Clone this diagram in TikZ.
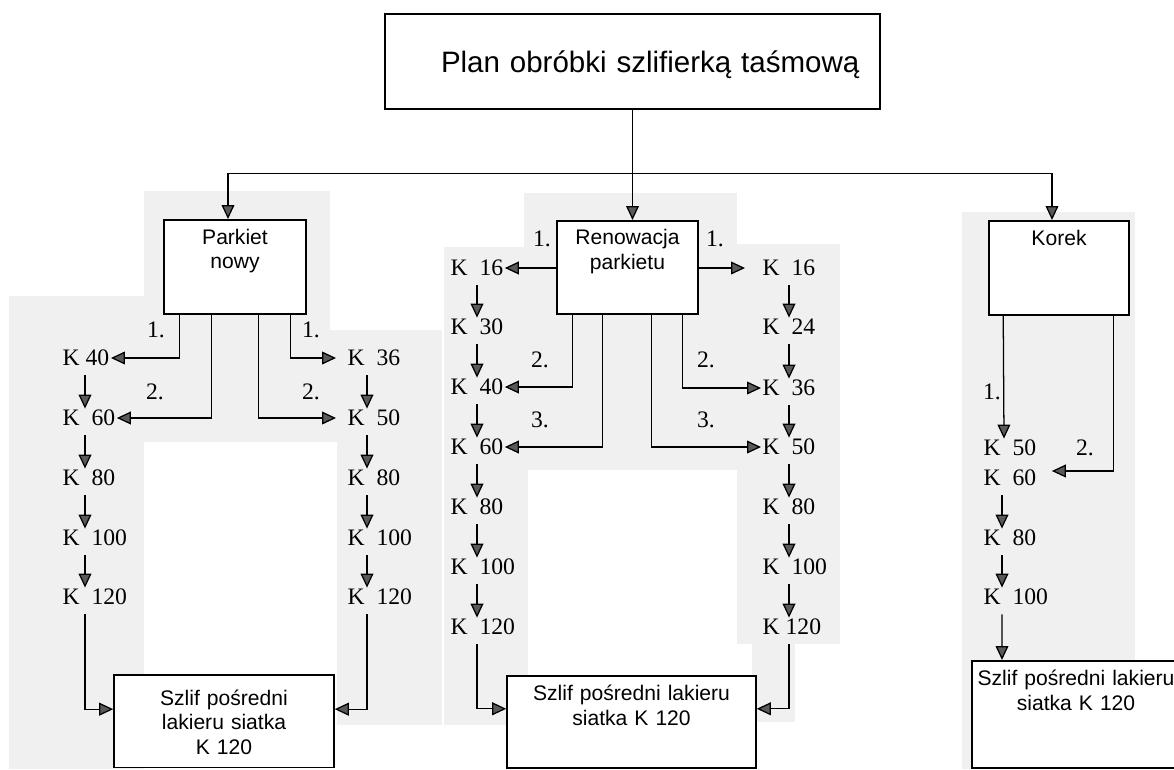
\documentclass[tikz,border=0pt]{standalone}
\usepackage{fontspec}
\setmainfont{Liberation Serif}
\setsansfont{Liberation Sans}
\usetikzlibrary{arrows.meta,positioning}

\begin{document}
\begin{tikzpicture}[
    x=0.25mm, y=-0.25mm,
    box/.style={draw, fill=white, line width=1.1pt, anchor=north, align=center, inner sep=0pt, font=\sffamily\fontsize{15}{17.5}\selectfont},
    grit/.style={anchor=west, inner sep=1pt, text height=11pt, text depth=0pt, font=\fontsize{16.8}{18}\selectfont},
    nr/.style={inner sep=0pt, font=\fontsize{16.8}{18}\selectfont},
    arr/.style={line width=0.9pt, -{Triangle[length=3.5mm, width=3.2mm, fill=black!65]}},
    down/.style={arr, shorten <=2mm},
    scan/.style={fill=black!6, draw=none}
]
\useasboundingbox (0,0) rectangle (1174,769);

% scanned paper patches
\fill[scan] (9,296) rectangle (144,769);
\fill[scan] (144,191) rectangle (330,442);
\fill[scan] (330,330) rectangle (442,442);
\fill[scan] (337,442) rectangle (442,725);
\fill[scan] (444,247) rectangle (528,725);
\fill[scan] (524,193) rectangle (737,470);
\fill[scan] (737,244) rectangle (840,644);
\fill[scan] (752,644) rectangle (795,722);
\fill[scan] (962,212) rectangle (1135,769);

% boxes
\node[box, text width=123.75mm, text height=14.75mm, text depth=9mm, align=left, font=\sffamily\fontsize{21}{25}\selectfont] (plan) at (632.5,13) {\hspace*{14mm}Plan obróbki szlifierką taśmową};
\node[box, text width=35.5mm, text height=6.1mm, text depth=17.4mm] (parkiet) at (235,219) {Parkiet\\nowy};
\node[box, text width=35.25mm, text height=6mm, text depth=17.25mm] (renow) at (627.5,220) {Renowacja\\parkietu};
\node[box, text width=35mm, text height=6.25mm, text depth=17.25mm] (korek) at (1059,220) {Korek};
\node[box, text width=55mm, text height=7.6mm, text depth=15.6mm] (szlifp) at (224,674) {Szlif pośredni\\lakieru siatka\\K 120};
\node[box, text width=62.25mm, text height=6.25mm, text depth=16.75mm] (szlifr) at (631.5,675) {Szlif pośredni lakieru\\siatka K 120};
\node[box, text width=52mm, text height=6.25mm, text depth=20.5mm] (szlifk) at (1076,660) {Szlif pośredni lakieru\\siatka K 120};

% parkiet nowy
\node[grit] (pl40) at (61,358) {K 40};
\node[grit] (pl60) at (61,418) {K~~60};
\node[grit] (pl80) at (61,478) {K~~80};
\node[grit] (pl100) at (61,538) {K~~100};
\node[grit] (pl120) at (61,597) {K~~120};
\node[grit] (pr36) at (346,358) {K~~36};
\node[grit] (pr50) at (346,418) {K~~50};
\node[grit] (pr80) at (346,478) {K~~80};
\node[grit] (pr100) at (346,538) {K~~100};
\node[grit] (pr120) at (346,597) {K~~120};

% renowacja parkietu
\node[grit] (rl16) at (449,268) {K~~16};
\node[grit] (rl30) at (449,327) {K~~30};
\node[grit] (rl40) at (449,387) {K~~40};
\node[grit] (rl60) at (449,447) {K~~60};
\node[grit] (rl80) at (449,507) {K~~80};
\node[grit] (rl100) at (449,567) {K~~100};
\node[grit] (rl120) at (449,627) {K~~120};
\node[grit] (rr16) at (761,268) {K~~16};
\node[grit] (rr24) at (761,327) {K~~24};
\node[grit] (rr36) at (761,388) {K~~36};
\node[grit] (rr50) at (761,447) {K~~50};
\node[grit] (rr80) at (761,507) {K~~80};
\node[grit] (rr100) at (761,567) {K~~100};
\node[grit] (rr120) at (761,627) {K 120};

% korek
\node[grit] (k50) at (982,448) {K~~50};
\node[grit] (k60) at (982,478) {K~~60};
\node[grit] (k80) at (982,538) {K~~80};
\node[grit] (k100) at (982,597) {K~~100};

% order numbers
\node[nr] (np1) at (156,330) {1.};
\node[nr] (np2) at (155,392) {2.};
\node[nr] (np3) at (311,330) {1.};
\node[nr] (np4) at (311,392) {2.};
\node[nr] (nr1) at (542,239) {1.};
\node[nr] (nr2) at (540,360) {2.};
\node[nr] (nr3) at (540,420) {3.};
\node[nr] (nr4) at (715,239) {1.};
\node[nr] (nr5) at (706,360) {2.};
\node[nr] (nr6) at (706,420) {3.};
\node[nr] (nk1) at (992,392) {1.};
\node[nr] (nk2) at (1085,448) {2.};

% top level
\coordinate (bus) at ([yshift=-16mm]plan.south);
\draw[line width=0.9pt] (plan.south) -- (bus);
\draw[arr] (bus) -| ([xshift=-1.75mm]parkiet.north);
\draw[arr] (bus) -- (bus |- renow.north);
\draw[arr] (bus) -| ([xshift=-1.75mm]korek.north);

% parkiet nowy
\draw[arr] ([xshift=4mm]parkiet.south west) |- (pl40.east);
\draw[arr] ([xshift=12mm]parkiet.south west) |- (pl60.east);
\draw[arr, shorten >=2.5mm] ([xshift=-12mm]parkiet.south east) |- (pr50.west);
\draw[arr, shorten >=2.5mm] ([xshift=-4mm]parkiet.south east) |- (pr36.west);
\draw[down] ([xshift=6mm]pl40.south west) -- ([xshift=6mm]pl60.north west);
\draw[down] ([xshift=6mm]pl60.south west) -- ([xshift=6mm]pl80.north west);
\draw[down] ([xshift=6mm]pl80.south west) -- ([xshift=6mm]pl100.north west);
\draw[down] ([xshift=6mm]pl100.south west) -- ([xshift=6mm]pl120.north west);
\draw[down] ([xshift=6mm]pl120.south west) |- ([yshift=3mm]szlifp.west);
\draw[down] ([xshift=5.25mm]pr36.south west) -- ([xshift=5.25mm]pr50.north west);
\draw[down] ([xshift=5.25mm]pr50.south west) -- ([xshift=5.25mm]pr80.north west);
\draw[down] ([xshift=5.25mm]pr80.south west) -- ([xshift=5.25mm]pr100.north west);
\draw[down] ([xshift=5.25mm]pr100.south west) -- ([xshift=5.25mm]pr120.north west);
\draw[down] ([xshift=5.25mm]pr120.south west) |- ([yshift=3mm]szlifp.east);

% renowacja parkietu
\draw[arr] (renow.west |- rl16) -- (rl16.east);
\draw[arr, shorten >=4mm] (renow.east |- rr16) -- (rr16.west);
\draw[arr] ([xshift=4mm]renow.south west) |- (rl40.east);
\draw[arr] ([xshift=11.5mm]renow.south west) |- (rl60.east);
\draw[arr] ([xshift=-11.75mm]renow.south east) |- (rr50.west);
\draw[arr] ([xshift=-4mm]renow.south east) |- (rr36.west);
\draw[down] ([xshift=7mm]rl16.south west) -- ([xshift=7mm]rl30.north west);
\draw[down] ([xshift=7mm]rl30.south west) -- ([xshift=7mm]rl40.north west);
\draw[down] ([xshift=7mm]rl40.south west) -- ([xshift=7mm]rl60.north west);
\draw[down] ([xshift=7mm]rl60.south west) -- ([xshift=7mm]rl80.north west);
\draw[down] ([xshift=7mm]rl80.south west) -- ([xshift=7mm]rl100.north west);
\draw[down] ([xshift=7mm]rl100.south west) -- ([xshift=7mm]rl120.north west);
\draw[down] ([xshift=7mm]rl120.south west) |- ([yshift=3.25mm]szlifr.west);
\draw[down] ([xshift=7mm]rr16.south west) -- ([xshift=7mm]rr24.north west);
\draw[down] ([xshift=7mm]rr24.south west) -- ([xshift=7mm]rr36.north west);
\draw[down] ([xshift=7mm]rr36.south west) -- ([xshift=7mm]rr50.north west);
\draw[down] ([xshift=7mm]rr50.south west) -- ([xshift=7mm]rr80.north west);
\draw[down] ([xshift=7mm]rr80.south west) -- ([xshift=7mm]rr100.north west);
\draw[down] ([xshift=7mm]rr100.south west) -- ([xshift=7mm]rr120.north west);
\draw[down] ([xshift=7mm]rr120.south west) |- ([yshift=3.25mm]szlifr.east);

% korek
\draw[arr] ([xshift=3.75mm]korek.south west) -- ([xshift=5.5mm]k50.north west);
\draw[arr, shorten >=3.5mm] ([xshift=-4mm]korek.south east) |- ([yshift=1.75mm]k60.east);
\draw[down] ([xshift=5mm]k60.south west) -- ([xshift=5mm]k80.north west);
\draw[down] ([xshift=5mm]k80.south west) -- ([xshift=5mm]k100.north west);
\draw[down] ([xshift=5mm]k100.south west) -- ([xshift=-18.5mm]szlifk.north);

\end{tikzpicture}
\end{document}
